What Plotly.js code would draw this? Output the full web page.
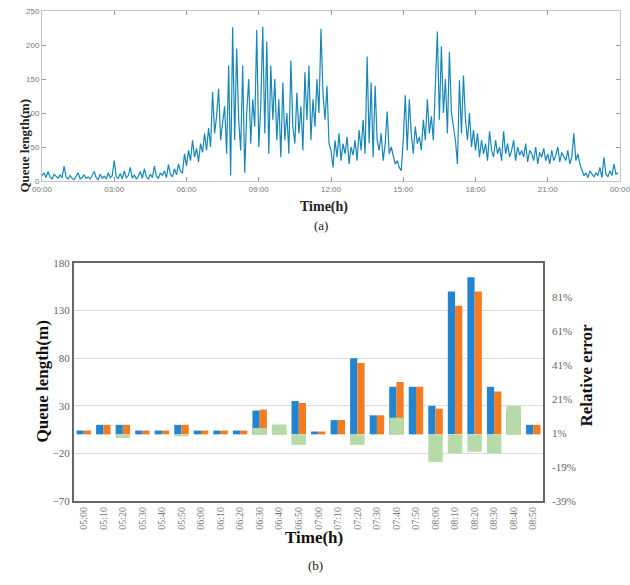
<!DOCTYPE html>
<html>
<head>
<meta charset="utf-8">
<script src="https://cdn.plot.ly/plotly-3.0.1.min.js"></script>
<style>html,body{margin:0;padding:0;background:#fff;}#chart{width:630px;height:585px;}</style>
</head>
<body>
<div id="chart"></div>
<script>
// ---------- (a) daily queue length, 5-minute readings ----------
const timeTicksA = [0, 180, 360, 540, 720, 900, 1080, 1260, 1440];
const timeLabelsA = ["00:00","03:00","06:00","09:00","12:00","15:00","18:00","21:00","00:00"];
const stepMinutes = 5;

const queueNight = [ // 00:00 - 06:00
  8,12,5,14,6,3,10,7,4,9,5,22,
  6,3,8,4,2,7,12,3,5,9,4,6,
  3,8,14,5,2,10,4,7,3,12,5,8,
  30,6,4,11,3,15,5,8,20,4,9,3,
  7,14,4,18,6,3,10,5,22,7,4,12,
  8,15,5,24,10,6,18,9,25,14,12,40
];
const queueMorning = [ // 06:00 - 12:00
  22,45,30,60,35,48,28,55,42,70,45,78,
  50,131,70,95,136,60,85,110,40,170,8,226,
  60,195,90,45,170,12,100,150,55,120,80,222,
  50,110,227,70,205,40,170,90,150,60,120,35,
  145,60,100,40,177,80,55,130,70,110,45,160,
  90,170,60,120,80,150,100,224,130,90,140,55
];
const queueAfternoon = [ // 12:00 - 18:00
  45,20,60,35,70,30,55,40,65,25,50,38,
  60,30,75,45,90,40,183,55,145,35,140,60,
  45,70,30,55,102,40,50,35,25,30,20,15,
  60,126,45,120,70,40,80,55,65,45,90,60,
  120,70,95,60,140,220,90,198,100,150,70,190,
  100,80,60,25,148,70,155,90,60,100,50,75
];
const queueEvening = [ // 18:00 - 24:00
  45,70,35,60,40,55,30,73,45,35,60,40,
  50,30,73,40,55,35,45,60,30,50,38,45,
  35,55,28,45,40,30,50,25,42,35,48,30,
  40,25,45,30,38,50,28,42,35,30,45,25,
  35,70,30,40,25,15,8,12,5,15,10,6,
  12,8,20,5,35,10,6,15,8,25,10,12
];

// ---------- (b) 10-minute comparison ----------
const slots = ["05:00","05:10","05:20","05:30","05:40","05:50","06:00","06:10","06:20","06:30","06:40","06:50",
               "07:00","07:10","07:20","07:30","07:40","07:50","08:00","08:10","08:20","08:30","08:40","08:50"];
const measured  = [4,10,10,4,4,10,4,4,4,25,5,35,3,15,80,20,50,50,30,150,165,50,25,10];
const estimated = [4,10,10,4,4,10,4,4,4,26,5,33,3,15,75,20,55,50,27,135,150,45,22,10];
const relError  = [0,0,-2,0,0,-1,0,0,0,4,6,-6,0,0,-6,0,10,0,-16,-11,-10,-11,17,0];
const leftTicks = [-70,-20,30,80,130,180];
const rightTicks = [-39,-19,1,21,41,61,81];
const rightLabels = ["-39%","-19%","1%","21%","41%","61%","81%"];

const queueA = queueNight.concat(queueMorning, queueAfternoon, queueEvening);
const minutesA = queueA.map((_, i) => i * stepMinutes);

const W = 630, H = 585;
const px = v => v / W, py = v => (H - v) / H;
const serif = "Liberation Serif, Times New Roman, serif";
const sans = "Liberation Sans, Arial, sans-serif";

const traces = [
  {x: minutesA, y: queueA, type: 'scatter', mode: 'lines', xaxis: 'x', yaxis: 'y',
   line: {color: '#1787b8', width: 1.2}, hoverinfo: 'skip'},
  {x: slots, y: measured, type: 'bar', xaxis: 'x2', yaxis: 'y2', marker: {color: '#2385d0'},
   width: 0.37, offset: -0.37},
  {x: slots, y: estimated, type: 'bar', xaxis: 'x2', yaxis: 'y2', marker: {color: '#f47b20'},
   width: 0.37, offset: 0},
  {x: slots, y: relError, type: 'bar', xaxis: 'x2', yaxis: 'y3', marker: {color: '#b6dba9'},
   width: 0.74, offset: -0.37}
];

const layout = {
  width: W, height: H, margin: {l: 0, r: 0, t: 0, b: 0},
  paper_bgcolor: '#fff', plot_bgcolor: '#fff', showlegend: false, barmode: 'overlay',
  xaxis: {domain: [px(42), px(620)], range: [0, 1440], tickvals: timeTicksA, ticktext: timeLabelsA,
    ticks: 'inside', ticklen: 4, tickcolor: '#999', showline: true, linecolor: '#c4c4c4', linewidth: 1,
    mirror: 'ticks', showgrid: false, zeroline: false, anchor: 'y', ticklabeloverflow: 'allow',
    tickfont: {family: sans, size: 8, color: '#777'}},
  yaxis: {domain: [py(181), py(11)], range: [0, 250], dtick: 50, ticks: 'inside', ticklen: 4,
    tickcolor: '#999', showline: true, linecolor: '#c4c4c4', linewidth: 1, mirror: 'ticks',
    showgrid: false, zeroline: false, anchor: 'x', tickfont: {family: sans, size: 8, color: '#777'}},
  xaxis2: {domain: [px(74), px(543)], anchor: 'y2', type: 'category', tickangle: -90,
    showline: true, linecolor: '#666', linewidth: 2, mirror: true, ticks: '', showgrid: false,
    tickfont: {family: serif, size: 10, color: '#777'}},
  yaxis2: {domain: [py(501), py(263)], anchor: 'x2', range: [-70, 180], tickvals: leftTicks,
    showline: true, linecolor: '#666', linewidth: 2, mirror: true, gridcolor: '#dcdcdc', gridwidth: 1,
    zeroline: false, ticks: '', tickfont: {family: serif, size: 11, color: '#666'}},
  yaxis3: {overlaying: 'y2', side: 'right', anchor: 'x2', range: [-39, 101], tickvals: rightTicks,
    ticktext: rightLabels, showgrid: false, zeroline: false, showline: false, ticks: '',
    ticklabelstandoff: 8, tickfont: {family: serif, size: 11, color: '#666'}},
  annotations: [
    {text: '<b>Queue length(m)</b>', x: px(14), y: py(97), xref: 'paper', yref: 'paper', showarrow: false,
     textangle: -90, font: {family: serif, size: 13, color: '#222'}},
    {text: '<b>Time(h)</b>', x: px(324), y: py(207), xref: 'paper', yref: 'paper', showarrow: false,
     font: {family: serif, size: 14, color: '#222'}},
    {text: '(a)', x: px(321), y: py(226), xref: 'paper', yref: 'paper', showarrow: false,
     font: {family: serif, size: 13, color: '#222'}},
    {text: '<b>Queue length(m)</b>', x: px(30), y: py(382), xref: 'paper', yref: 'paper', showarrow: false,
     textangle: -90, font: {family: serif, size: 17, color: '#111'}},
    {text: '<b>Relative error</b>', x: px(598), y: py(375), xref: 'paper', yref: 'paper', showarrow: false,
     textangle: -90, font: {family: serif, size: 17, color: '#111'}},
    {text: '<b>Time(h)</b>', x: px(314), y: py(549), xref: 'paper', yref: 'paper', showarrow: false,
     font: {family: serif, size: 17, color: '#111'}},
    {text: '(b)', x: px(315), y: py(575), xref: 'paper', yref: 'paper', showarrow: false,
     font: {family: serif, size: 13, color: '#222'}}
  ]
};

Plotly.newPlot('chart', traces, layout, {staticPlot: true, displayModeBar: false});
</script>
</body>
</html>
